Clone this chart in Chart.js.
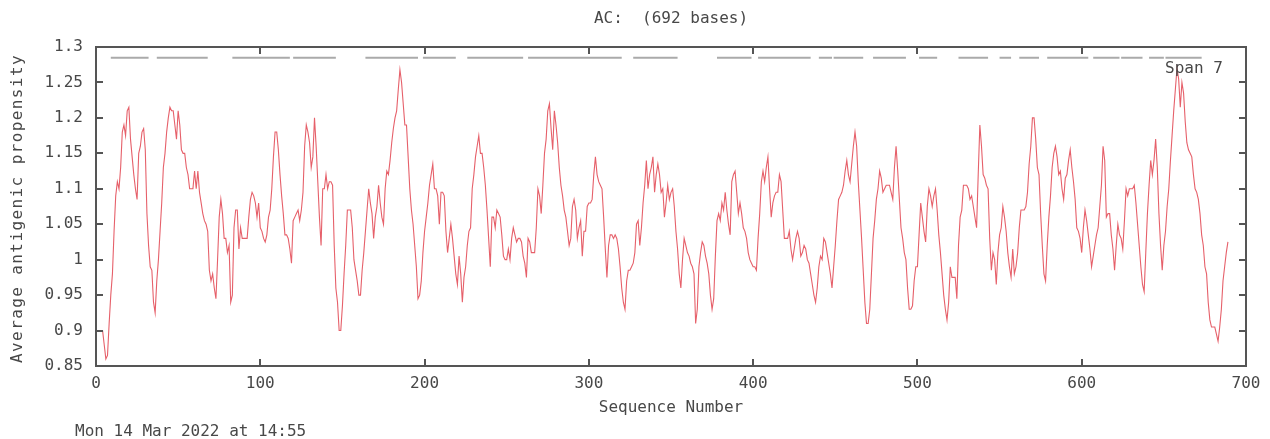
<!DOCTYPE html>
<html>
<head>
<meta charset="utf-8">
<script src="https://cdn.jsdelivr.net/npm/chart.js@4"></script>
<style>
  html, body { margin: 0; padding: 0; background: #ffffff; }
  #wrap { width: 1270px; height: 439px; position: relative; }
</style>
</head>
<body>
<div id="wrap"><canvas id="myChart" width="1270" height="439"></canvas></div>
<script>
// Antigenic propensity, span 7, one value per residue starting at residue 4
const firstPosition = 4;
const propensity = [
  0.90, 0.88, 0.86, 0.865, 0.91, 0.95, 0.98,
  1.04, 1.09, 1.11, 1.10, 1.13, 1.18, 1.19, 1.175, 1.21, 1.215,
  1.17, 1.145, 1.12, 1.10, 1.085, 1.15, 1.16, 1.18, 1.185, 1.155,
  1.065, 1.02, 0.99, 0.985, 0.94, 0.925, 0.97, 1.00, 1.04, 1.08,
  1.13, 1.15, 1.18, 1.20, 1.215, 1.21, 1.21, 1.19, 1.17, 1.21,
  1.19, 1.155, 1.15, 1.15, 1.13, 1.12, 1.10, 1.10, 1.10, 1.125,
  1.10, 1.125, 1.095, 1.08, 1.065, 1.055, 1.05, 1.04, 0.985, 0.97,
  0.98, 0.96, 0.945, 1.00, 1.06, 1.085, 1.065, 1.03, 1.03, 1.01,
  1.02, 0.94, 0.95, 1.045, 1.07, 1.07, 1.015, 1.045, 1.03, 1.03,
  1.03, 1.03, 1.06, 1.085, 1.095, 1.09, 1.08, 1.06, 1.08, 1.045,
  1.04, 1.03, 1.025, 1.035, 1.06, 1.07, 1.10, 1.145, 1.18, 1.18,
  1.155, 1.12, 1.09, 1.065, 1.035, 1.035, 1.03, 1.015, 0.995, 1.055,
  1.06, 1.065, 1.07, 1.055, 1.07, 1.095, 1.16, 1.19, 1.18, 1.165,
  1.13, 1.145, 1.20, 1.16, 1.11, 1.06, 1.02, 1.10, 1.10, 1.12,
  1.10, 1.11, 1.11, 1.105, 1.02, 0.96, 0.94, 0.90, 0.90, 0.935,
  0.98, 1.02, 1.07, 1.07, 1.07, 1.045, 1.00, 0.985, 0.97, 0.95,
  0.95, 0.985, 1.01, 1.04, 1.07, 1.10, 1.08, 1.065, 1.03, 1.06,
  1.075, 1.105, 1.08, 1.06, 1.05, 1.10, 1.125, 1.12, 1.14, 1.165,
  1.185, 1.20, 1.21, 1.24, 1.268, 1.25, 1.22, 1.19, 1.19, 1.145,
  1.10, 1.07, 1.05, 1.02, 0.99, 0.945, 0.95, 0.97, 1.01, 1.04,
  1.06, 1.08, 1.105, 1.12, 1.135, 1.10, 1.10, 1.09, 1.05, 1.095,
  1.095, 1.09, 1.04, 1.01, 1.03, 1.05, 1.03, 1.005, 0.98, 0.965,
  1.005, 0.98, 0.94, 0.975, 0.99, 1.02, 1.04, 1.045, 1.10, 1.12,
  1.145, 1.16, 1.175, 1.15, 1.15, 1.13, 1.105, 1.07, 1.03, 0.99,
  1.06, 1.06, 1.045, 1.07, 1.065, 1.06, 1.035, 1.005, 1.00, 1.00,
  1.015, 1.00, 1.03, 1.045, 1.035, 1.025, 1.03, 1.03, 1.025, 1.005,
  0.995, 0.975, 1.03, 1.025, 1.01, 1.01, 1.01, 1.045, 1.10, 1.09,
  1.065, 1.105, 1.15, 1.17, 1.21, 1.22, 1.185, 1.155, 1.21, 1.19,
  1.165, 1.13, 1.105, 1.09, 1.07, 1.06, 1.04, 1.02, 1.03, 1.075,
  1.085, 1.07, 1.03, 1.045, 1.055, 1.005, 1.04, 1.04, 1.075, 1.08,
  1.08, 1.085, 1.12, 1.145, 1.12, 1.11, 1.105, 1.10, 1.06, 1.015,
  0.975, 1.02, 1.035, 1.035, 1.03, 1.035, 1.03, 1.015, 0.99, 0.96,
  0.94, 0.93, 0.97, 0.985, 0.985, 0.99, 0.995, 1.01, 1.05, 1.055,
  1.02, 1.045, 1.08, 1.105, 1.14, 1.10, 1.12, 1.13, 1.145, 1.095,
  1.12, 1.135, 1.12, 1.095, 1.10, 1.06, 1.08, 1.105, 1.085, 1.095,
  1.10, 1.075, 1.04, 1.015, 0.98, 0.96, 1.00, 1.03, 1.02, 1.01,
  1.005, 0.995, 0.99, 0.98, 0.91, 0.93, 0.99, 1.01, 1.025, 1.02,
  1.005, 0.995, 0.98, 0.95, 0.93, 0.945, 1.005, 1.055, 1.065, 1.055,
  1.08, 1.07, 1.095, 1.07, 1.05, 1.035, 1.11, 1.12, 1.125, 1.095,
  1.065, 1.08, 1.065, 1.045, 1.04, 1.03, 1.01, 1.00, 0.995, 0.99,
  0.99, 0.985, 1.03, 1.065, 1.11, 1.125, 1.11, 1.13, 1.145, 1.10,
  1.06, 1.08, 1.09, 1.095, 1.095, 1.12, 1.11, 1.07, 1.03, 1.03,
  1.03, 1.04, 1.015, 1.00, 1.015, 1.03, 1.04, 1.03, 1.005, 1.01,
  1.02, 1.015, 1.00, 0.995, 0.98, 0.965, 0.95, 0.94, 0.96, 0.99,
  1.005, 1.00, 1.03, 1.025, 1.01, 0.995, 0.98, 0.96, 0.99, 1.02,
  1.055, 1.085, 1.09, 1.095, 1.105, 1.125, 1.14, 1.12, 1.11, 1.135,
  1.16, 1.18, 1.16, 1.11, 1.07, 1.03, 0.985, 0.94, 0.91, 0.91,
  0.93, 0.98, 1.03, 1.055, 1.085, 1.10, 1.125, 1.115, 1.095, 1.10,
  1.105, 1.105, 1.105, 1.095, 1.085, 1.13, 1.16, 1.125, 1.085, 1.045,
  1.03, 1.01, 1.00, 0.96, 0.93, 0.93, 0.935, 0.97, 0.99, 0.99,
  1.035, 1.08, 1.06, 1.04, 1.025, 1.075, 1.10, 1.09, 1.075, 1.09,
  1.10, 1.07, 1.035, 1.01, 0.98, 0.95, 0.93, 0.915, 0.94, 0.99,
  0.975, 0.975, 0.975, 0.945, 1.02, 1.06, 1.07, 1.105, 1.105, 1.105,
  1.10, 1.085, 1.09, 1.075, 1.06, 1.045, 1.12, 1.19, 1.16, 1.12,
  1.115, 1.105, 1.10, 1.03, 0.985, 1.01, 1.00, 0.965, 1.01, 1.035,
  1.045, 1.075, 1.06, 1.04, 1.01, 0.99, 0.975, 1.015, 0.98, 0.99,
  1.01, 1.045, 1.07, 1.07, 1.07, 1.075, 1.095, 1.135, 1.16, 1.20,
  1.20, 1.17, 1.13, 1.12, 1.065, 1.02, 0.98, 0.97, 1.02, 1.06,
  1.09, 1.13, 1.15, 1.16, 1.145, 1.12, 1.125, 1.10, 1.085, 1.115,
  1.12, 1.14, 1.155, 1.13, 1.11, 1.085, 1.045, 1.04, 1.03, 1.01,
  1.045, 1.07, 1.055, 1.035, 1.015, 0.99, 1.005, 1.02, 1.035, 1.045,
  1.075, 1.105, 1.16, 1.14, 1.06, 1.065, 1.065, 1.035, 1.015, 0.985,
  1.02, 1.05, 1.035, 1.03, 1.015, 1.055, 1.10, 1.09, 1.10, 1.10,
  1.10, 1.105, 1.08, 1.05, 1.02, 0.99, 0.965, 0.955, 1.01, 1.065,
  1.105, 1.14, 1.12, 1.14, 1.17, 1.13, 1.065, 1.02, 0.985, 1.02,
  1.04, 1.075, 1.10, 1.14, 1.175, 1.21, 1.24, 1.27, 1.255, 1.215,
  1.25, 1.235, 1.195, 1.165, 1.155, 1.15, 1.145, 1.12, 1.10, 1.095,
  1.085, 1.065, 1.035, 1.02, 0.99, 0.98, 0.94, 0.915, 0.905, 0.905,
  0.905, 0.895, 0.885, 0.905, 0.93, 0.97, 0.99, 1.01, 1.025
];

// Predicted antigenic sites (start / end residue), drawn along the top
const siteStarts = [9, 37, 83, 120, 164, 199, 226, 263, 327, 378, 403, 440, 449, 473, 501, 525, 550, 562, 579, 607, 624, 641, 651];
const siteEnds   = [32, 68, 118, 146, 196, 219, 260, 320, 354, 399, 435, 448, 467, 493, 512, 543, 557, 574, 604, 623, 637, 650, 673];
const siteLevel = 1.285;

const xTicks = [0, 100, 200, 300, 400, 500, 600, 700];
const yTicks = [0.85, 0.9, 0.95, 1, 1.05, 1.1, 1.15, 1.2, 1.25, 1.3];

const titleText = 'AC:  (692 bases)';
const xTitle = 'Sequence Number';
const yTitle = 'Average antigenic propensity';
const dateText = 'Mon 14 Mar 2022 at 14:55';
const spanText = 'Span 7';

const monoFont = '"DejaVu Sans Mono", "Liberation Mono", monospace';
const textColor = '#484848';
const frameColor = '#555555';

// Build line points from the arrays
const linePoints = propensity.map((v, i) => ({ x: firstPosition + i, y: v }));
const sitePoints = [];
siteStarts.forEach((s, i) => {
  sitePoints.push({ x: s, y: siteLevel });
  sitePoints.push({ x: siteEnds[i], y: siteLevel });
  sitePoints.push({ x: siteEnds[i], y: null }); // break between sites
});

// Frame, inside tick marks and free text
const decorPlugin = {
  id: 'decor',
  afterDatasetsDraw(chart) {
    const ctx = chart.ctx;
    const area = chart.chartArea;
    const xs = chart.scales.x;
    const ys = chart.scales.y;
    ctx.save();
    ctx.strokeStyle = frameColor;
    ctx.lineWidth = 2;
    ctx.strokeRect(area.left, area.top, area.right - area.left, area.bottom - area.top);

    ctx.beginPath();
    xTicks.forEach(t => {
      const px = Math.round(xs.getPixelForValue(t));
      ctx.moveTo(px, area.bottom); ctx.lineTo(px, area.bottom - 7);
      ctx.moveTo(px, area.top); ctx.lineTo(px, area.top + 7);
    });
    yTicks.forEach(t => {
      const py = Math.round(ys.getPixelForValue(t));
      ctx.moveTo(area.left, py); ctx.lineTo(area.left + 7, py);
      ctx.moveTo(area.right, py); ctx.lineTo(area.right - 7, py);
    });
    ctx.stroke();

    ctx.fillStyle = textColor;
    ctx.font = '16px ' + monoFont;
    ctx.textBaseline = 'middle';
    ctx.textAlign = 'center';
    ctx.fillText(titleText, (area.left + area.right) / 2, 19);
    ctx.fillText(xTitle, (area.left + area.right) / 2, 408);
    ctx.textAlign = 'left';
    ctx.fillText(dateText, 75, 432);
    ctx.fillText(spanText, 1165, 69);

    ctx.translate(18, (area.top + area.bottom) / 2 + 2);
    ctx.rotate(-Math.PI / 2);
    ctx.textAlign = 'center';
    ctx.letterSpacing = '1.4px';
    ctx.fillText(yTitle, 0, 0);
    ctx.restore();
  }
};

const config = {
  type: 'line',
  data: {
    datasets: [
      {
        label: 'Antigenic propensity',
        data: linePoints,
        borderColor: '#e6606a',
        borderWidth: 1.1,
        pointRadius: 0,
        fill: false,
        tension: 0
      },
      {
        label: 'Antigenic sites',
        data: sitePoints,
        borderColor: '#aaaaaa',
        borderWidth: 2,
        pointRadius: 0,
        spanGaps: false,
        fill: false
      }
    ]
  },
  options: {
    responsive: false,
    devicePixelRatio: 1,
    animation: false,
    layout: { padding: { top: 47, right: 24, left: 0, bottom: 0 } },
    plugins: {
      legend: { display: false },
      tooltip: { enabled: false },
      title: { display: false }
    },
    scales: {
      x: {
        type: 'linear',
        min: 0,
        max: 700,
        grid: { display: false, drawTicks: false },
        border: { display: false },
        afterBuildTicks: scale => { scale.ticks = xTicks.map(v => ({ value: v })); },
        afterFit: scale => { scale.height = 73; },
        ticks: {
          font: { family: monoFont, size: 16 },
          color: textColor,
          padding: 8,
          maxRotation: 0,
          callback: v => String(v)
        }
      },
      y: {
        min: 0.85,
        max: 1.3,
        grid: { display: false, drawTicks: false },
        border: { display: false },
        afterBuildTicks: scale => { scale.ticks = yTicks.map(v => ({ value: v })); },
        afterFit: scale => { scale.width = 96; },
        ticks: {
          font: { family: monoFont, size: 16 },
          color: textColor,
          padding: 13,
          callback: v => String(+v.toFixed(2))
        }
      }
    }
  },
  plugins: [decorPlugin]
};

const canvas = document.getElementById('myChart');
const myChart = new Chart(canvas.getContext('2d'), config);
</script>
</body>
</html>
